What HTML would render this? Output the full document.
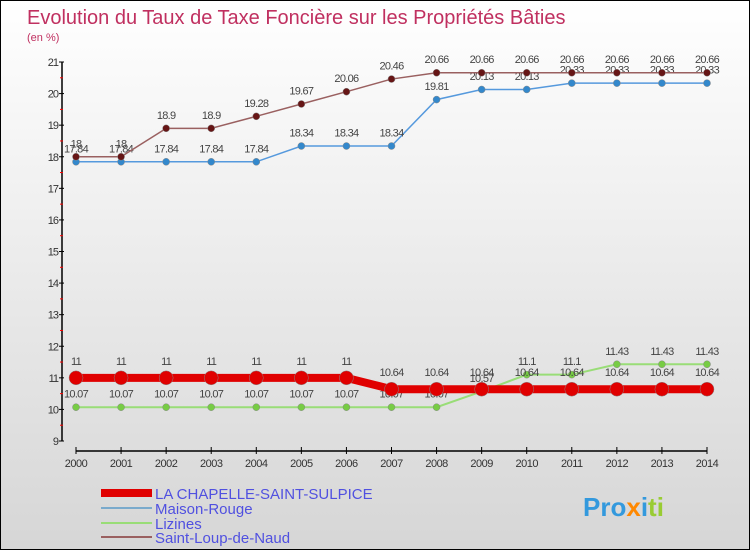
<!DOCTYPE html>
<html><head><meta charset="utf-8"><style>
body{margin:0}
#c{width:748px;height:548px;border:1px solid #000;background:linear-gradient(#fff,#d6d6d6);position:relative;font-family:"Liberation Sans",sans-serif;overflow:hidden}
</style></head><body>
<div id="c">
<svg id="s" width="748" height="548" xmlns="http://www.w3.org/2000/svg">
<text x="26" y="23" font-size="20" fill="#c03060">Evolution du Taux de Taxe Foncière sur les Propriétés Bâties</text>
<text x="26" y="40" font-size="11" fill="#c03060">(en %)</text>
<g id="axes"></g><g id="series"></g>
<g>
<line x1="100" y1="492" x2="151" y2="492" stroke="#e00000" stroke-width="8"/>
<text x="154" y="498" font-size="15" fill="#5050e0">LA CHAPELLE-SAINT-SULPICE</text>
<line x1="100" y1="507" x2="151" y2="507" stroke="#7aaacc" stroke-width="2"/>
<text x="154" y="513" font-size="15" fill="#5050e0">Maison-Rouge</text>
<line x1="100" y1="522" x2="151" y2="522" stroke="#99dd77" stroke-width="2"/>
<text x="154" y="528" font-size="15" fill="#5050e0">Lizines</text>
<line x1="100" y1="536" x2="151" y2="536" stroke="#9a6060" stroke-width="2"/>
<text x="154" y="542" font-size="15" fill="#5050e0">Saint-Loup-de-Naud</text>
</g>
<text x="582" y="515" font-size="26" font-weight="bold"><tspan fill="#3399dd">Pro</tspan><tspan fill="#ff8800">x</tspan><tspan fill="#3399dd">i</tspan><tspan fill="#99cc33">ti</tspan></text>
</svg></div>
<script>
const years=[2000,2001,2002,2003,2004,2005,2006,2007,2008,2009,2010,2011,2012,2013,2014];
const yTicks=[9,10,11,12,13,14,15,16,17,18,19,20,21];
const chapelle=[11,11,11,11,11,11,11,10.64,10.64,10.64,10.64,10.64,10.64,10.64,10.64];
const maison=[17.84,17.84,17.84,17.84,17.84,18.34,18.34,18.34,19.81,20.13,20.13,20.33,20.33,20.33,20.33];
const lizines=[10.07,10.07,10.07,10.07,10.07,10.07,10.07,10.07,10.07,10.57,11.1,11.1,11.43,11.43,11.43];
const stloup=[18,18,18.9,18.9,19.28,19.67,20.06,20.46,20.66,20.66,20.66,20.66,20.66,20.66,20.66];
const NS="http://www.w3.org/2000/svg";
function X(i){return 75+i*(706-75)/(years.length-1);}
function Y(v){return 440-(v-9)*(440-61)/12;}
function mk(t,a,p){const e=document.createElementNS(NS,t);for(const k in a)e.setAttribute(k,a[k]);p.appendChild(e);return e;}
const ax=document.getElementById('axes');
let e=mk('line',{x1:61,y1:Y(21),x2:61,y2:Y(9),stroke:'#000','stroke-width':1.5},ax);


e=mk('line',{x1:75,y1:450,x2:706,y2:450,stroke:'#000','stroke-width':1.5},ax);


yTicks.forEach(v=>{
 mk('line',{x1:58,x2:63,y1:Y(v),y2:Y(v),stroke:'#000'},ax);
 if(v<21)mk('line',{x1:59,x2:62,y1:Y(v+0.5),y2:Y(v+0.5),stroke:'#f00'},ax);
 const t=mk('text',{x:57,y:Y(v)+4,'font-size':11,fill:'#333','text-anchor':'end','letter-spacing':'-1'},ax);t.textContent=v;
 
 
});
years.forEach((y,i)=>{
 mk('line',{x1:X(i),x2:X(i),y1:446,y2:453,stroke:'#000'},ax);
 const t=mk('text',{x:X(i),y:466,'font-size':11,fill:'#333','text-anchor':'middle','letter-spacing':'-0.5'},ax);t.textContent=y;
 
 
});
const sg=document.getElementById('series');
function series(d,name,color,lw,r,dot){
 const g=mk('g',{},sg);
 
 
 mk('polyline',{points:d.map((v,i)=>X(i)+','+Y(v)).join(' '),fill:'none',stroke:color,'stroke-width':lw},g);
 d.forEach((v,i)=>{
  const c=mk('circle',{cx:X(i),cy:Y(v),r:r,fill:dot,stroke:'#888','stroke-width':0.5},g);
  
  
  const t=mk('text',{x:X(i),y:Y(v)-(r+6),'font-size':11,fill:'#444','text-anchor':'middle','letter-spacing':'-0.7'},g);t.textContent=v;
  
  
 });
}
series(lizines,'series-lizines','#99dd77',2,3.5,'#77cc44');
series(chapelle,'series-la-chapelle','#e00000',8,7,'#e00000');
series(maison,'series-maison-rouge','#5599dd',1.5,3.5,'#3388cc');
series(stloup,'series-saint-loup','#9a6060',1.5,3.5,'#661515');
</script>
</body></html>
